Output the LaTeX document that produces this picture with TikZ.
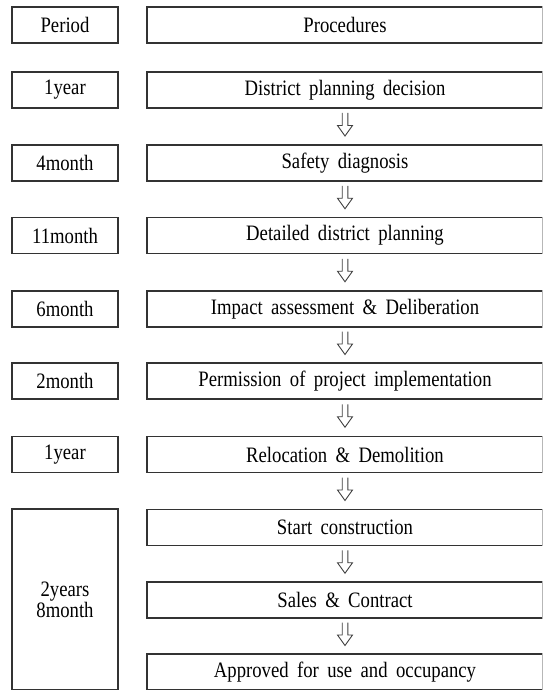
\documentclass[tikz,border=0pt]{standalone}
\usepackage{fontspec}
\setmainfont{Liberation Serif}[FakeStretch=0.85, WordSpace=1.8]
\usetikzlibrary{calc}

\begin{document}
\begin{tikzpicture}[x=1pt,y=-1pt,
  every node/.style={font=\fontsize{22}{18}\selectfont, text=black},
  period/.style={draw=black!80, line width=1.3pt, minimum width=106pt,
    minimum height=36pt, inner sep=0pt},
  proc/.style={draw=black!80, line width=1.3pt, minimum width=396pt,
    minimum height=36pt, inner sep=0pt},
  flowtip/.style={draw=black!75, line width=0.9pt, fill=white,
    line join=miter},
  downarrow/.pic={
    \draw[flowtip] (-2.8,-11.5) -- (-2.8,1) -- (-7.5,1) -- (0,11.5)
      -- (7.5,1) -- (2.8,1) -- (2.8,-11.5);
  }]
\useasboundingbox (0,0) rectangle (543,690);
\clip (0,0) rectangle (542.3,689.3);

% header row
\node[period] (hp) at (65,25) {Period};
\node[proc]   (hq) at (345,25) {Procedures};

% period column
\node[period] (t1) at (65,90)    {1year};
\node[period] (t2) at (65,163)   {4month};
\node[period] (t3) at (65,235.5) {11month};
\node[period] (t4) at (65,309)   {6month};
\node[period] (t5) at (65,381)   {2month};
\node[period] (t6) at (65,454.5) {1year};
\node[period, minimum height=181pt, align=center] (t7) at (65,599.5)
  {2years\\8month};

% procedure column
\node[proc] (p1) at (345,90)    {District planning decision};
\node[proc] (p2) at (345,163)   {Safety diagnosis};
\node[proc] (p3) at (345,235.5) {Detailed district planning};
\node[proc] (p4) at (345,309)   {Impact assessment \& Deliberation};
\node[proc] (p5) at (345,381)   {Permission of project implementation};
\node[proc] (p6) at (345,454.5) {Relocation \& Demolition};
\node[proc] (p7) at (345,527.5) {Start construction};
\node[proc] (p8) at (345,600)   {Sales \& Contract};
\node[proc] (p9) at (345,672)   {Approved for use and occupancy};

% hollow arrows between procedure steps
\foreach \a/\b in {p1/p2,p2/p3,p3/p4,p4/p5,p5/p6,p6/p7,p7/p8,p8/p9}
  \pic at ($(\a.south)!0.5!(\b.north)+(0,-2)$) {downarrow};
\end{tikzpicture}
\end{document}
